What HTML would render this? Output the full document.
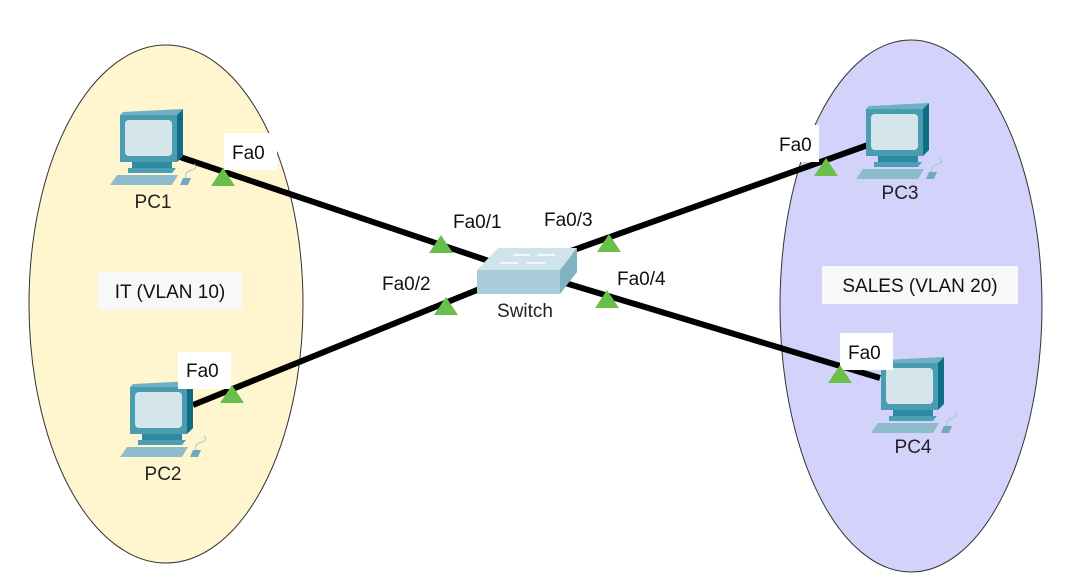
<!DOCTYPE html>
<html><head><meta charset="utf-8"><style>
html,body{margin:0;padding:0;background:#fff;}
svg{display:block;font-family:"Liberation Sans",Arial,sans-serif;}
</style></head><body>
<svg width="1086" height="588" viewBox="0 0 1086 588" xmlns="http://www.w3.org/2000/svg">
<defs>
<g id="pc">
  <polygon points="3,0 63,-3 57,3 0,3" fill="#6fb0c2"/>
  <rect x="0" y="3" width="57" height="47" fill="#4a9cb0"/>
  <polygon points="57,3 63,-3 63,44 57,50" fill="#0e6e85"/>
  <rect x="5" y="8" width="47" height="36" rx="4" fill="#d5e5ec"/>
  <rect x="12" y="50" width="40" height="6" fill="#2e8aa0"/>
  <polygon points="8,56 56,56 52,61 8,61" fill="#4ba0b5"/>
  <polygon points="-10,73 -3,63 58,63 52,73" fill="#8fbccb"/>
  <polygon points="60,73 63,66 71,66 68,73" fill="#6fa9bb"/>
  <path d="M66,66 Q64,60 72,58 Q78,56 74,52" fill="none" stroke="#9cc8d4" stroke-width="1"/>
</g>
<polygon id="tri" points="-12,9 12,9 0,-9" fill="#6abf4b"/>
</defs>
<ellipse cx="166" cy="304" rx="137" ry="259" fill="#fff5cf" stroke="#333" stroke-width="1"/>
<ellipse cx="911" cy="306" rx="131" ry="266" fill="#d2d2fb" stroke="#333" stroke-width="1"/>

<g stroke="#000" stroke-width="6" fill="none">
  <line x1="180" y1="157" x2="492" y2="262"/>
  <line x1="193" y1="405" x2="482" y2="288"/>
  <line x1="868" y1="145" x2="568" y2="252"/>
  <line x1="880" y1="378" x2="562" y2="282"/>
</g>

<polygon points="477,270 498,248 577,248 560,270" fill="#cfe3ea"/>
<rect x="477" y="270" width="83" height="24" fill="#a9cdd8"/>
<polygon points="560,270 577,248 577,272 560,294" fill="#7fb3c3"/>
<g stroke="#fff" stroke-width="1.5">
  <line x1="513" y1="255" x2="530" y2="255"/><line x1="537" y1="255" x2="555" y2="255"/>
  <line x1="500" y1="263" x2="518" y2="263"/><line x1="527" y1="263" x2="545" y2="263"/>
</g>
<text x="525" y="317" font-size="19" text-anchor="middle" fill="#222">Switch</text>

<use href="#pc" x="120" y="112"/>
<use href="#pc" x="130" y="384"/>
<use href="#pc" x="866" y="106"/>
<use href="#pc" x="881" y="360"/>

<g font-size="19" text-anchor="middle" fill="#222">
  <text x="153" y="208">PC1</text>
  <text x="163" y="480">PC2</text>
  <text x="900" y="199">PC3</text>
  <text x="913" y="453">PC4</text>
</g>

<g fill="#fff">
  <rect x="224" y="133" width="53" height="37"/>
  <rect x="178" y="352" width="53" height="37"/>
  <rect x="776" y="125" width="43" height="37"/>
  <rect x="840" y="333" width="53" height="37"/>
</g>
<rect x="98" y="272" width="144" height="38" fill="#f8f8fb"/>
<rect x="822" y="266" width="196" height="38" fill="#f8f8fb"/>

<use href="#tri" x="223" y="177"/>
<use href="#tri" x="441" y="244"/>
<use href="#tri" x="446" y="306"/>
<use href="#tri" x="232" y="394"/>
<use href="#tri" x="609" y="243"/>
<use href="#tri" x="607" y="299"/>
<use href="#tri" x="826" y="167"/>
<use href="#tri" x="840" y="374"/>

<g font-size="19" fill="#111">
  <text x="232" y="159">Fa0</text>
  <text x="186" y="377">Fa0</text>
  <text x="779" y="151">Fa0</text>
  <text x="848" y="359">Fa0</text>
  <text x="453" y="228">Fa0/1</text>
  <text x="382" y="290">Fa0/2</text>
  <text x="544" y="226">Fa0/3</text>
  <text x="617" y="285">Fa0/4</text>
  <text x="170" y="298" text-anchor="middle">IT (VLAN 10)</text>
  <text x="920" y="292" text-anchor="middle">SALES (VLAN 20)</text>
</g>
</svg>
</body></html>
